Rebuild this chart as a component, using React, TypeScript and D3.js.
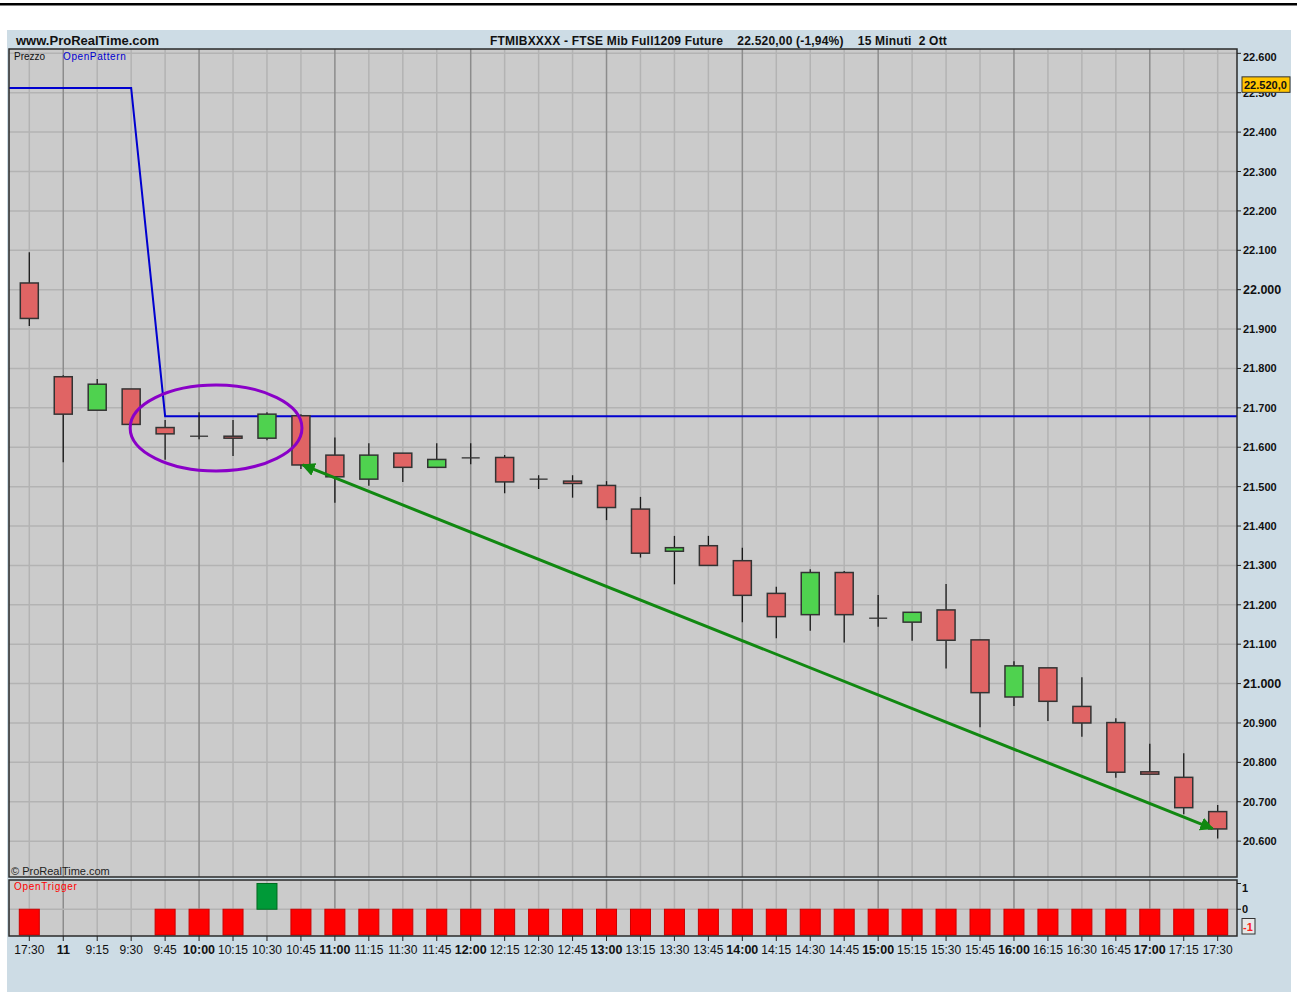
import React from "react";
import * as d3 from "d3";

const times = ["17:30","11","9:15","9:30","9:45","10:00","10:15","10:30","10:45","11:00","11:15","11:30","11:45","12:00","12:15","12:30","12:45","13:00","13:15","13:30","13:45","14:00","14:15","14:30","14:45","15:00","15:15","15:30","15:45","16:00","16:15","16:30","16:45","17:00","17:15","17:30"];
const boldTimes = ["11","10:00","11:00","12:00","13:00","14:00","15:00","16:00","17:00"];

const openP = [22017,21779,21694,21748,21650,21628,21628,21623,21680,21580,21519,21585,21549,21573,21574,21519,21514,21503,21443,21336,21350,21312,21229,21175,21282,21166,21156,21187,21111,20966,21040,20942,20901,20776,20762,20675];
const highP = [22095,21783,21773,21748,21669,21689,21669,21689,21684,21625,21610,21585,21610,21610,21580,21529,21529,21514,21474,21375,21375,21345,21246,21290,21286,21225,21181,21253,21111,21057,21040,21016,20912,20847,20823,20692];
const lowP = [21908,21562,21694,21658,21568,21620,21578,21618,21545,21459,21502,21512,21549,21557,21483,21494,21472,21415,21320,21252,21300,21156,21115,21134,21104,21144,21109,21038,20889,20943,20905,20865,20761,20770,20668,20607];
const closeP = [21927,21684,21760,21658,21634,21628,21623,21684,21555,21525,21580,21549,21569,21573,21512,21519,21508,21447,21331,21345,21300,21224,21170,21282,21175,21166,21181,21110,20977,21045,20955,20900,20775,20770,20685,20631];

const openPattern = [22512,22512,22512,22512,21679,21679,21679,21679,21679,21679,21679,21679,21679,21679,21679,21679,21679,21679,21679,21679,21679,21679,21679,21679,21679,21679,21679,21679,21679,21679,21679,21679,21679,21679,21679,21679];
const openTrigger = [-1,0,0,0,-1,-1,-1,1,-1,-1,-1,-1,-1,-1,-1,-1,-1,-1,-1,-1,-1,-1,-1,-1,-1,-1,-1,-1,-1,-1,-1,-1,-1,-1,-1,-1];

const priceTicks = [20600,20700,20800,20900,21000,21100,21200,21300,21400,21500,21600,21700,21800,21900,22000,22100,22200,22300,22400,22500,22600];
const lastPrice = 22520;

// annotations (data coords)
const ellipseAnn = { ci: 5.5, cp: 21649, di: 2.53, dp: 109 };
const arrowAnn = { i1: 8.05, p1: 21555, i2: 34.85, p2: 20632 };

const fmtPrice = (v: number) => {
  const s = String(v);
  return s.slice(0, s.length - 3) + "." + s.slice(s.length - 3);
};

export default function App() {
  const W = 1297, H = 992;
  const L = 9, R = 1237, T = 49, B = 877;
  const PT = 880, PB = 936;
  const x = d3.scaleLinear().domain([0, 35]).range([29.3, 1217.7]);
  const y = d3.scaleLinear().domain([20509, 22611]).range([B, T]);
  const yt = d3.scaleLinear().domain([-1, 1]).range([935, 883.5]);
  const bodyW = 18;
  const font = "'Liberation Sans', Arial, sans-serif";

  const linePts: [number, number][] = openPattern.map((v, i) => [x(i), y(v)]);
  linePts.unshift([L, y(openPattern[0])]);
  linePts.push([R, y(openPattern[openPattern.length - 1])]);
  const lineGen = d3.line();

  const red = "#e06464";
  const green = "#4fd24f";

  const isHour = (i: number) => boldTimes.includes(times[i]) && i > 0;

  const ex = x(ellipseAnn.ci), ey = y(ellipseAnn.cp);
  const erx = x(ellipseAnn.ci + ellipseAnn.di) - ex;
  const ery = y(ellipseAnn.cp - ellipseAnn.dp) - ey;

  return (
    <svg width={W} height={H} style={{ position: "absolute", left: 0, top: 0, fontFamily: font }}>
      <defs>
        <clipPath id="mainClip"><rect x={L} y={T} width={R - L} height={B - T} /></clipPath>
        <clipPath id="lblClip"><rect x={1238} y={y(lastPrice) + 8} width={60} height={20} /></clipPath>
        <marker id="ah" viewBox="0 0 10 10" refX="9" refY="5" markerWidth="4.5" markerHeight="4.5" orient="auto-start-reverse">
          <path d="M0,0 L10,5 L0,10 z" fill="#118811" />
        </marker>
      </defs>
      <rect x={0} y={0} width={W} height={H} fill="#ffffff" />
      <rect x={0} y={3} width={W} height={2.5} fill="#000" />
      <rect x={7} y={30} width={1284} height={962} fill="#cddce5" />

      {/* header */}
      <text x={16} y={45} fontSize={13} fontWeight="bold" fill="#111">www.ProRealTime.com</text>
      <text x={490} y={45} fontSize={12} fontWeight="bold" fill="#111" letterSpacing={0.2} style={{ whiteSpace: "pre" }} xmlSpace="preserve">
        FTMIBXXXX - FTSE Mib Full1209 Future    22.520,00 (-1,94%)    15 Minuti  2 Ott
      </text>

      {/* main plot */}
      <rect x={L} y={T} width={R - L} height={B - T} fill="#cbcbcb" />
      <g clipPath="url(#mainClip)">
        {priceTicks.map((p) => (
          <line key={"h" + p} x1={L} x2={R} y1={y(p)} y2={y(p)} stroke="#b3b3b3" strokeWidth={1.5} />
        ))}
        {times.map((t, i) => (
          <line key={"v" + i} x1={x(i)} x2={x(i)} y1={T} y2={B} stroke={isHour(i) ? "#8c8c8c" : "#b3b3b3"} strokeWidth={1.5} />
        ))}
        <path d={lineGen(linePts) || ""} fill="none" stroke="#0000d0" strokeWidth={2} />
        {times.map((t, i) => {
          const o = openP[i], c = closeP[i];
          const cx = x(i);
          const up = c > o;
          const top = y(Math.max(o, c)), bot = y(Math.min(o, c));
          return (
            <g key={"c" + i}>
              <line x1={cx} x2={cx} y1={y(highP[i])} y2={y(lowP[i])} stroke="#1a1a1a" strokeWidth={1.3} />
              {o === c ? (
                <line x1={cx - bodyW / 2} x2={cx + bodyW / 2} y1={top} y2={top} stroke="#333" strokeWidth={1.3} />
              ) : (
                <rect x={cx - bodyW / 2} y={top} width={bodyW} height={Math.max(bot - top, 1.5)} fill={up ? green : red} stroke="#333" strokeWidth={1.5} />
              )}
            </g>
          );
        })}
        <ellipse cx={ex} cy={ey} rx={erx} ry={ery} fill="none" stroke="#8a00c8" strokeWidth={3} />
        <line x1={x(arrowAnn.i1)} y1={y(arrowAnn.p1)} x2={x(arrowAnn.i2)} y2={y(arrowAnn.p2)} stroke="#118811" strokeWidth={3} markerStart="url(#ah)" markerEnd="url(#ah)" />
      </g>
      <rect x={L} y={T} width={R - L} height={B - T} fill="none" stroke="#2a2a2a" strokeWidth={1.5} />
      <text x={14} y={60} fontSize={10} fill="#111">Prezzo</text>
      <text x={63} y={60} fontSize={10} fill="#0000d0" letterSpacing={0.6}>OpenPattern</text>
      <text x={11} y={875} fontSize={11} fill="#222">© ProRealTime.com</text>

      {/* right axis */}
      {priceTicks.map((p) => {
        const yy = y(p);
        const big = p % 1000 === 0;
        const hidden = p === 22500;
        return (
          <g key={"t" + p}>
            <line x1={R} x2={R + 4} y1={yy} y2={yy} stroke="#222" strokeWidth={1} />
            <text x={R + 6} y={Math.max(yy, 57) + 4} fontSize={big ? 12.5 : 11} fontWeight="bold" fill="#111" clipPath={hidden ? "url(#lblClip)" : undefined}>{fmtPrice(p)}</text>
          </g>
        );
      })}
      <rect x={1242} y={y(lastPrice) - 8} width={48} height={15.5} fill="#ffc400" stroke="#333" strokeWidth={1} />
      <text x={1244} y={y(lastPrice) + 4} fontSize={11} fontWeight="bold" fill="#111">22.520,0</text>

      {/* lower panel */}
      <rect x={L} y={PT} width={R - L} height={PB - PT} fill="#cbcbcb" />
      {times.map((t, i) => (
        <line key={"pv" + i} x1={x(i)} x2={x(i)} y1={PT} y2={PB} stroke={isHour(i) ? "#8c8c8c" : "#b3b3b3"} strokeWidth={1.5} />
      ))}
      <line x1={L} x2={R} y1={yt(0)} y2={yt(0)} stroke="#b3b3b3" strokeWidth={1.5} />
      {openTrigger.map((v, i) => v === 0 ? null : (
        <rect key={"ot" + i} x={x(i) - 10} y={Math.min(yt(0), yt(v))} width={20} height={Math.abs(yt(v) - yt(0))}
          fill={v > 0 ? "#009a38" : "#ff0000"} stroke={v > 0 ? "#006a20" : "#c80000"} strokeWidth={1} />
      ))}
      <rect x={L} y={PT} width={R - L} height={PB - PT} fill="none" stroke="#2a2a2a" strokeWidth={1.5} />
      <text x={14} y={890} fontSize={10} fill="#ff0000" letterSpacing={0.7}>OpenTrigger</text>
      <line x1={R} x2={R + 4} y1={yt(1)} y2={yt(1)} stroke="#222" />
      <line x1={R} x2={R + 4} y1={yt(0)} y2={yt(0)} stroke="#222" />
      <text x={1242} y={yt(1) + 8} fontSize={11} fontWeight="bold" fill="#111">1</text>
      <text x={1242} y={yt(0) + 4} fontSize={11} fontWeight="bold" fill="#111">0</text>
      <rect x={1242} y={918.5} width={13} height={15.5} fill="#e8e8e8" stroke="#333" strokeWidth={1} />
      <text x={1243} y={930.5} fontSize={11} fontWeight="bold" fill="#ff2020">-1</text>

      {/* x axis */}
      {times.map((t, i) => {
        const b = boldTimes.includes(t);
        return (
          <g key={"xl" + i}>
            <line x1={x(i)} x2={x(i)} y1={PB} y2={PB + 5} stroke="#222" />
            <text x={x(i)} y={954} textAnchor="middle" fontSize={b ? 12.5 : 12} fontWeight={b ? "bold" : "normal"} fill="#111">{t}</text>
          </g>
        );
      })}
    </svg>
  );
}
